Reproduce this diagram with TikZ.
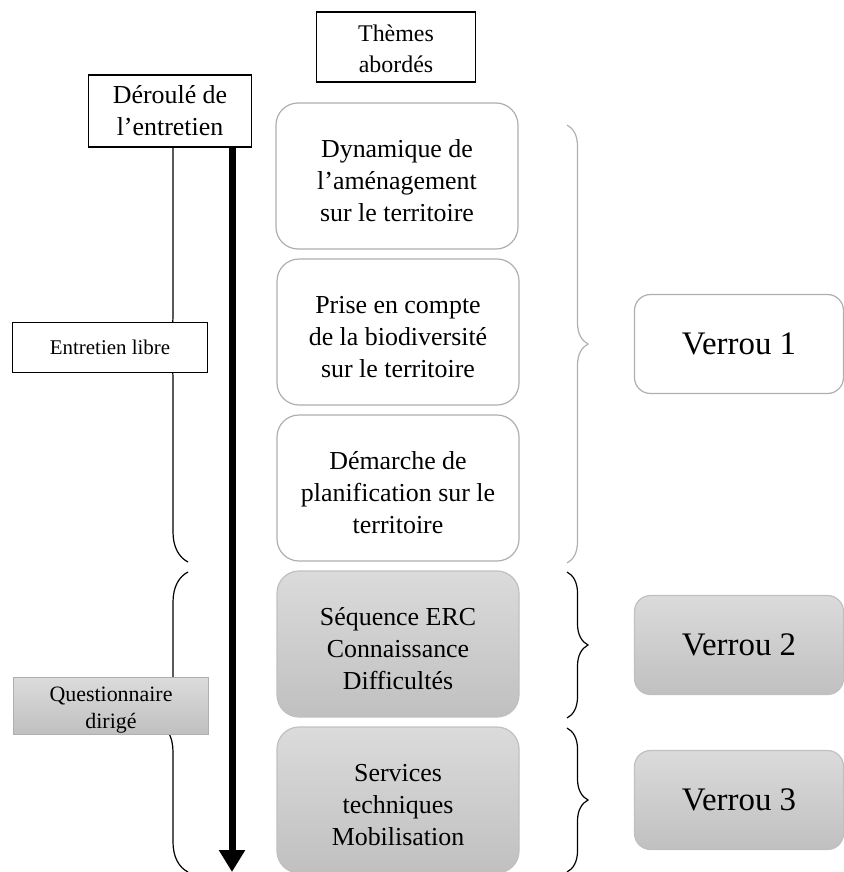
\documentclass[tikz,border=0pt]{standalone}
\usepackage{fontspec}
\setmainfont{Liberation Serif}
\usetikzlibrary{arrows.meta,positioning,decorations.pathreplacing,backgrounds}
\definecolor{edgegray}{RGB}{175,175,175}
\definecolor{shadetop}{RGB}{219,219,219}
\definecolor{shadebot}{RGB}{192,192,192}
\newcommand{\ecart}[1]{\rule{0pt}{#1}}

\tikzset{
  headbox/.style={draw,line width=1.2bp,fill=white,align=center,inner sep=0pt},
  themebox/.style={draw=edgegray,line width=1.2bp,rounded corners=22bp,fill=white,
    minimum width=242bp,minimum height=146bp,align=center,inner sep=0pt,
    font=\fontsize{26}{32}\selectfont},
  greybox/.style={themebox,draw=shadebot,top color=shadetop,bottom color=shadebot},
  verroubox/.style={draw=edgegray,line width=1.2bp,rounded corners=16bp,fill=white,
    minimum width=209bp,minimum height=99bp,inner sep=0pt,font=\fontsize{33}{38}\selectfont},
  verrougrey/.style={verroubox,draw=shadebot,top color=shadetop,bottom color=shadebot},
  bracket/.style={decorate,decoration={brace,amplitude=#1},line width=1.2bp}
}

\begin{document}
\begin{tikzpicture}[x=1bp,y=-1bp]
\useasboundingbox (0,0) rectangle (844,872);

% en-tetes
\node[headbox,minimum width=159bp,minimum height=70bp,font=\fontsize{24}{31}\selectfont] (themes) at (396,47) {\ecart{20bp}Thèmes\\abordés};
\node[headbox,minimum width=163bp,minimum height=72bp,font=\fontsize{26}{32}\selectfont] (deroule) at (170,111) {Déroulé de\\l’entretien};

% themes abordes
\node[themebox] (dyn) at (397,176) {\ecart{27bp}Dynamique de\\l’aménagement\\sur le territoire};
\node[themebox] (prise) at (398,332) {\ecart{27bp}Prise en compte\\de la biodiversité\\sur le territoire};
\node[themebox] (plan) at (398,488) {\ecart{27bp}Démarche de\\planification sur le\\territoire};
\node[greybox] (erc) at (398,644) {\ecart{27bp}Séquence ERC\\Connaissance\\Difficultés};
\node[greybox] (serv) at (398,800) {\ecart{27bp}Services\\techniques\\Mobilisation};

% verrous
\node[verroubox] (v1) at (739,344) {Verrou 1};
\node[verrougrey] (v2) at (739,645) {Verrou 2};
\node[verrougrey] (v3) at (739,800) {Verrou 3};

% accolades
\begin{scope}[on background layer]
\draw[bracket=30bp,decoration={aspect=0.465}] (188,562) -- (188,100);
\draw[bracket=30bp] (188,872) -- (188,572);
\draw[bracket=21bp,edgegray] (567,125) -- (567,563);
\draw[bracket=21bp] (567,572) -- (567,718);
\draw[bracket=21bp] (567,728) -- (567,872);
\end{scope}

% phases
\node[headbox,line width=1bp,minimum width=195bp,minimum height=50bp,font=\fontsize{21}{26}\selectfont] (libre) at (110,347) {Entretien libre};
\node[headbox,draw=edgegray,line width=1bp,top color=shadetop,bottom color=shadebot,minimum width=194bp,minimum height=57bp,font=\fontsize{22}{27}\selectfont] (dirige) at (111,706) {\ecart{23bp}Questionnaire\\dirigé};

% fleche du temps
\coordinate (fin) at (232,872);
\draw[line width=7bp,-{Triangle[width=25bp,length=22bp]}] (deroule.south -| fin) -- (fin);
\end{tikzpicture}
\end{document}
